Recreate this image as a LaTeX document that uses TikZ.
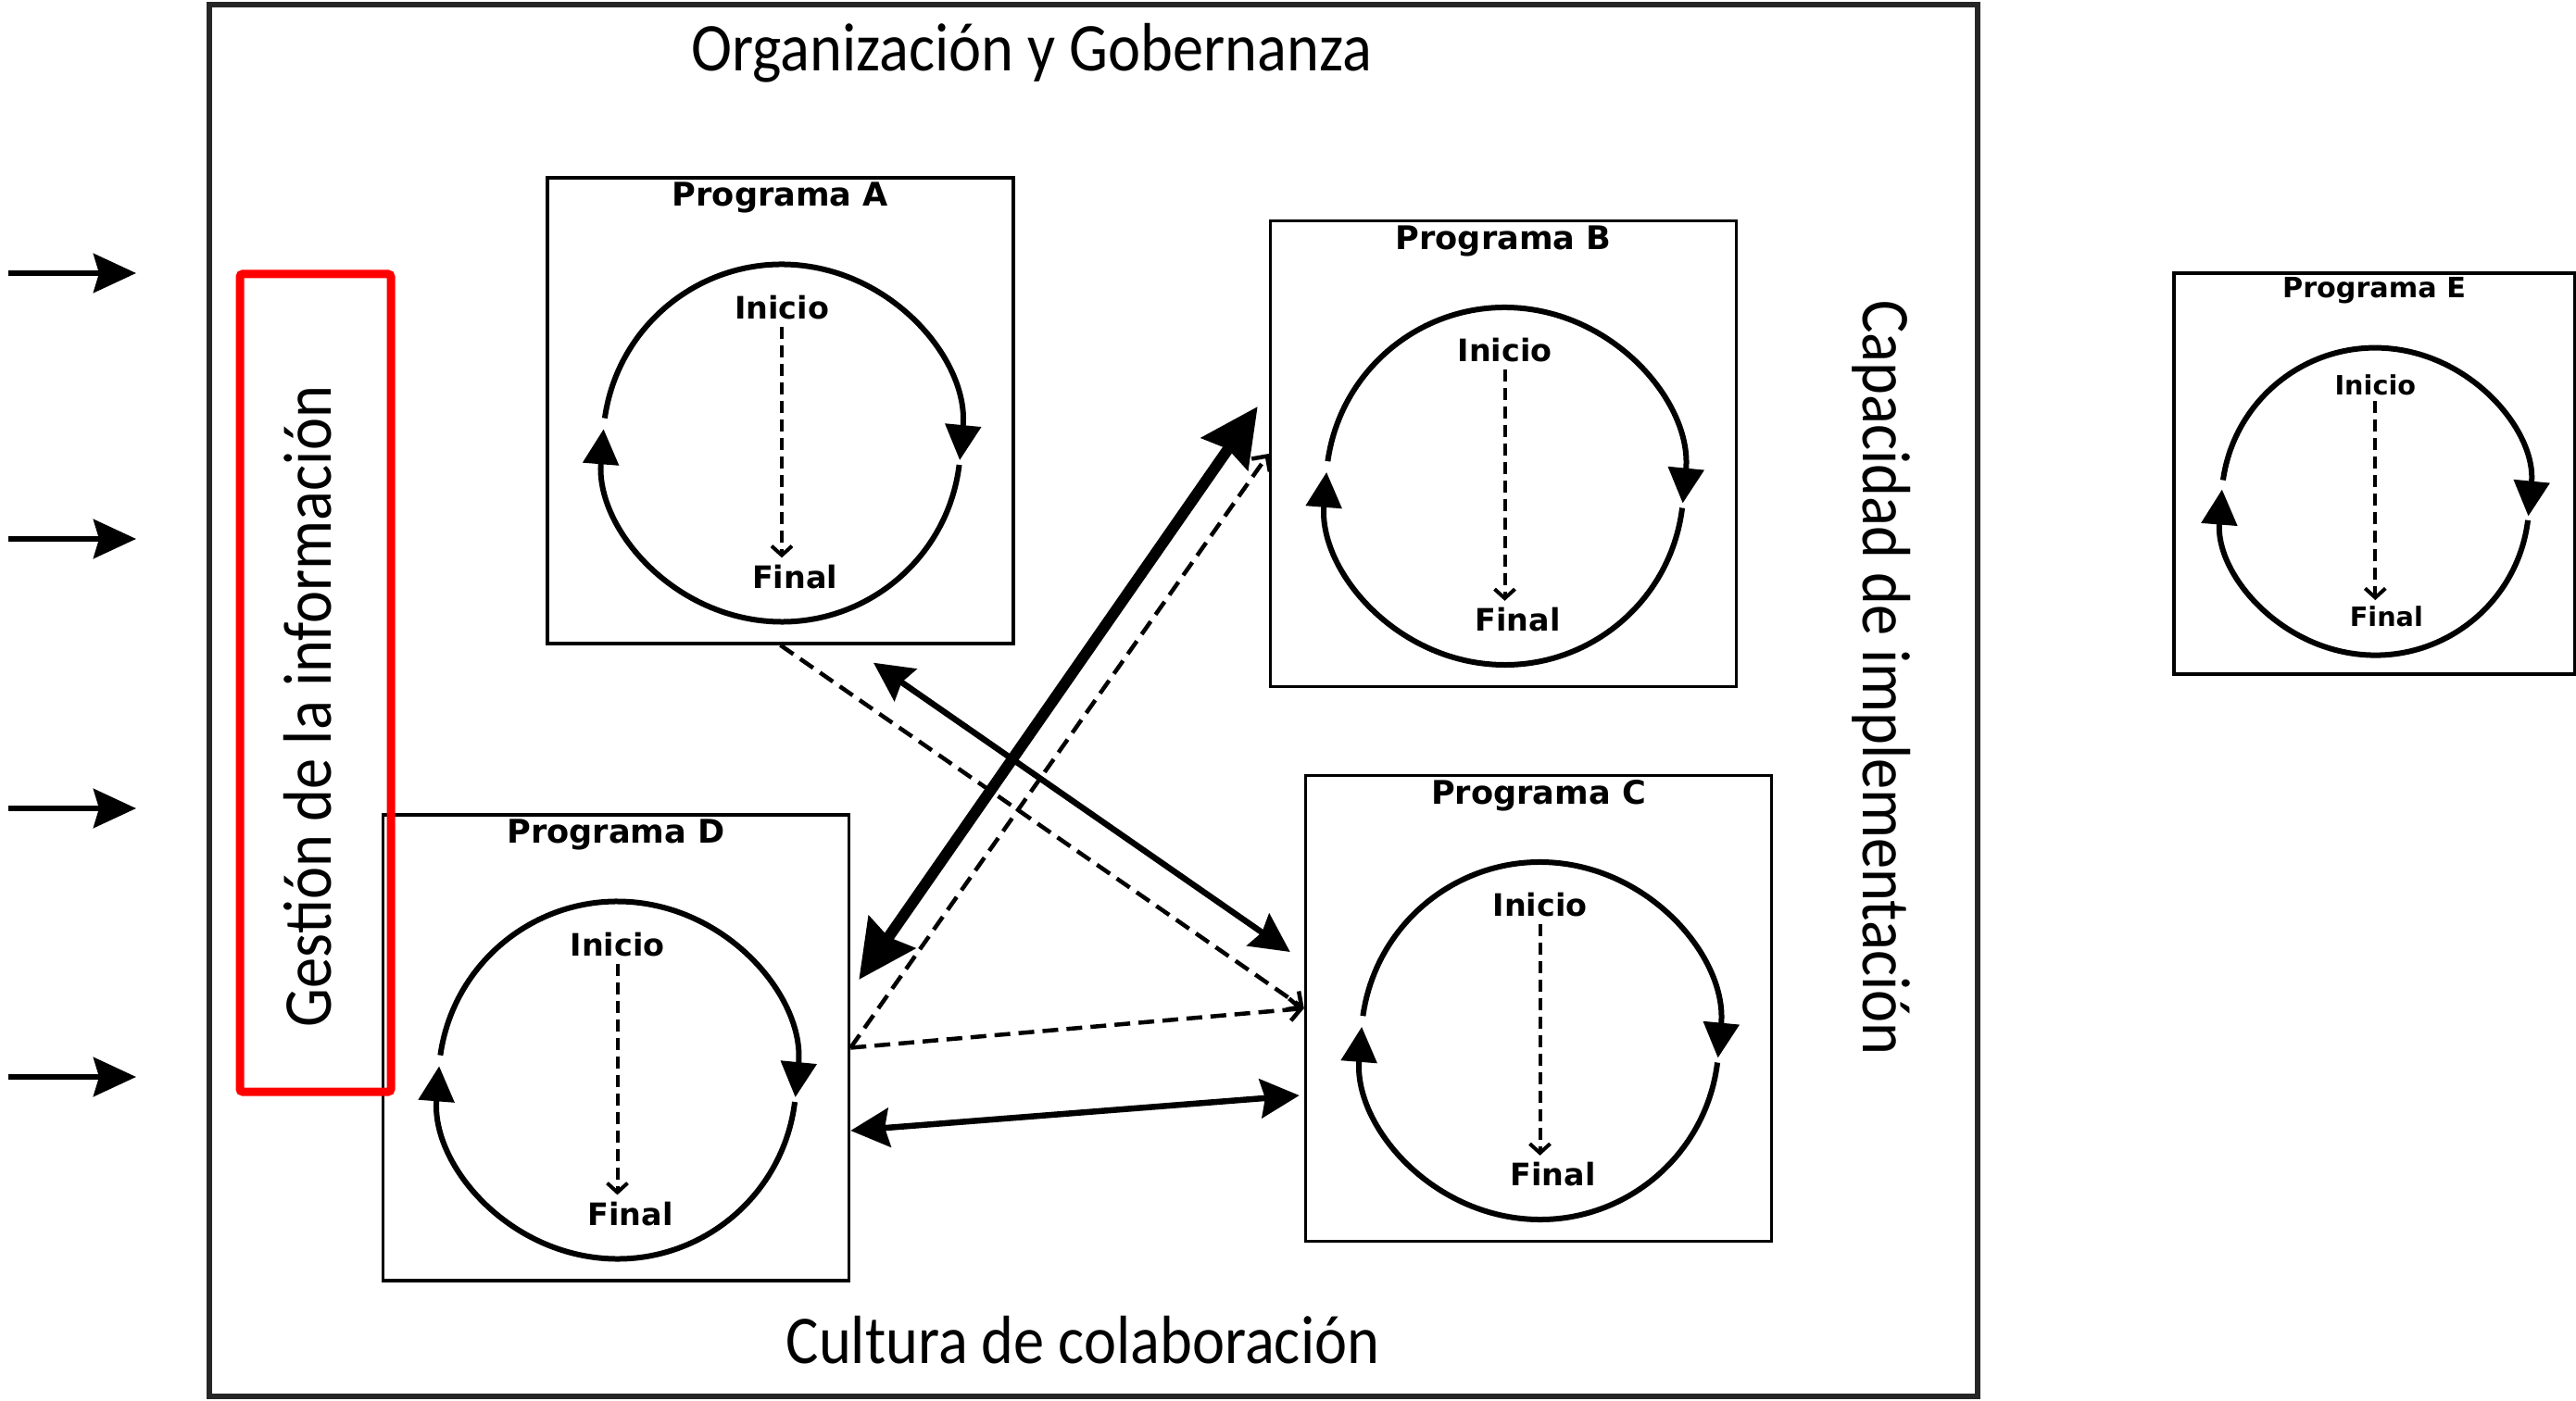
\documentclass[tikz,border=0pt]{standalone}
\usepackage{fontspec}
\usepackage{tikz}
\usetikzlibrary{arrows.meta}
\setsansfont{DejaVu Sans}
\newfontfamily\condfont[FakeStretch=0.9]{Carlito}

\begin{document}
\begin{tikzpicture}[
	progbox/.style={draw, line width=0.035cm, minimum width=5.03cm, minimum height=5.03cm, inner sep=0pt},
	titulo/.style={font=\sffamily\bfseries\fontsize{10}{12}\selectfont, inner sep=1pt},
	fase/.style={font=\sffamily\bfseries\fontsize{9.5}{11}\selectfont, inner sep=2pt},
	ciclo/.style={line width=0.06cm, -{Triangle[length=0.38cm, width=0.38cm]}},
	camino/.style={line width=0.04cm, dash pattern=on 0.13cm off 0.07cm, -{Straight Barb[length=0.1cm, width=0.22cm]}},
	eje/.style={font=\condfont\fontsize{21}{25}\selectfont, inner sep=0pt},
	gruesa/.style={line width=0.12cm, {Stealth[length=0.62cm, width=0.6cm, inset=0.06cm]}-{Stealth[length=0.62cm, width=0.6cm, inset=0.06cm]}},
	media/.style={line width=0.065cm, {Stealth[length=0.42cm, width=0.42cm, inset=0.05cm]}-{Stealth[length=0.42cm, width=0.42cm, inset=0.05cm]}},
	punteada/.style={line width=0.045cm, dash pattern=on 0.17cm off 0.09cm, -{Straight Barb[length=0.12cm, width=0.24cm]}},
	entrada/.style={line width=0.065cm, -{Stealth[length=0.46cm, width=0.42cm, inset=0.06cm]}}
]
	\useasboundingbox (0,0) rectangle (27.81,15.12);

	\path (11.805,7.555) node[draw=black!85, line width=0.06cm, minimum width=19.09cm, minimum height=15.03cm] (marco) {}
		(11.14,14.55) node[eje] (org) {Organización y Gobernanza}
		(11.69,0.65) node[eje] (cul) {Cultura de colaboración}
		(20.31,7.80) node[eje, rotate=-90] (cap) {Capacidad de implementación};

	\foreach \y [count=\i] in {12.17,9.30,6.39,3.49} {
		\coordinate (a\i) at (0.09,\y);
		\coordinate (b\i) at (1.47,\y);
		\draw[entrada] (a\i) -- (b\i);
	}

	\foreach \n/\x/\y/\s in {A/8.425/10.685/1, B/16.23/10.22/1, C/16.61/4.23/1, D/6.65/3.805/1, E/25.63/10.005/0.86} {
		\begin{scope}[shift={(\x,\y)}, scale=\s, transform shape]
			\path (0,0) node[progbox] (p\n) {}
				(0,2.30) node[titulo] (t\n) {Programa \n}
				(0.015,1.115) node[fase] (i\n) {Inicio}
				(0.155,-1.795) node[fase] (f\n) {Final};
			\draw[ciclo] (0.015,-0.35) ++(172:1.93) arc[start angle=172, end angle=-5.5, radius=1.93];
			\draw[ciclo] (0.015,-0.35) ++(-7:1.93) arc[start angle=-7, end angle=-184.5, radius=1.93];
			\draw[camino] (i\n.south) -- (i\n.south |- f\n.north);
		\end{scope}
	}

	\path (3.405,7.745) node[draw=red, line width=0.09cm, rounded corners=0.03cm, minimum width=1.63cm, minimum height=8.83cm] (info) {}
		(3.32,7.49) node[eje, rotate=90] (ges) {Gestión de la información};

	\draw[gruesa] ([shift={(0.09,0.735)}]pD.east) -- ([shift={(-0.12,0.51)}]pB.west);
	\draw[media] ([shift={(1.005,-0.19)}]pA.south) -- ([shift={(-0.15,0.61)}]pC.west);
	\draw[media] ([yshift=-0.895cm]pD.east) -- ([shift={(-0.05,-0.94)}]pC.west);
	\draw[punteada] (pA.south) -- (pC.west);
	\draw[punteada] (pD.east) -- (pC.west);
	\draw[punteada] (pD.east) -- (pB.west);
\end{tikzpicture}
\end{document}
